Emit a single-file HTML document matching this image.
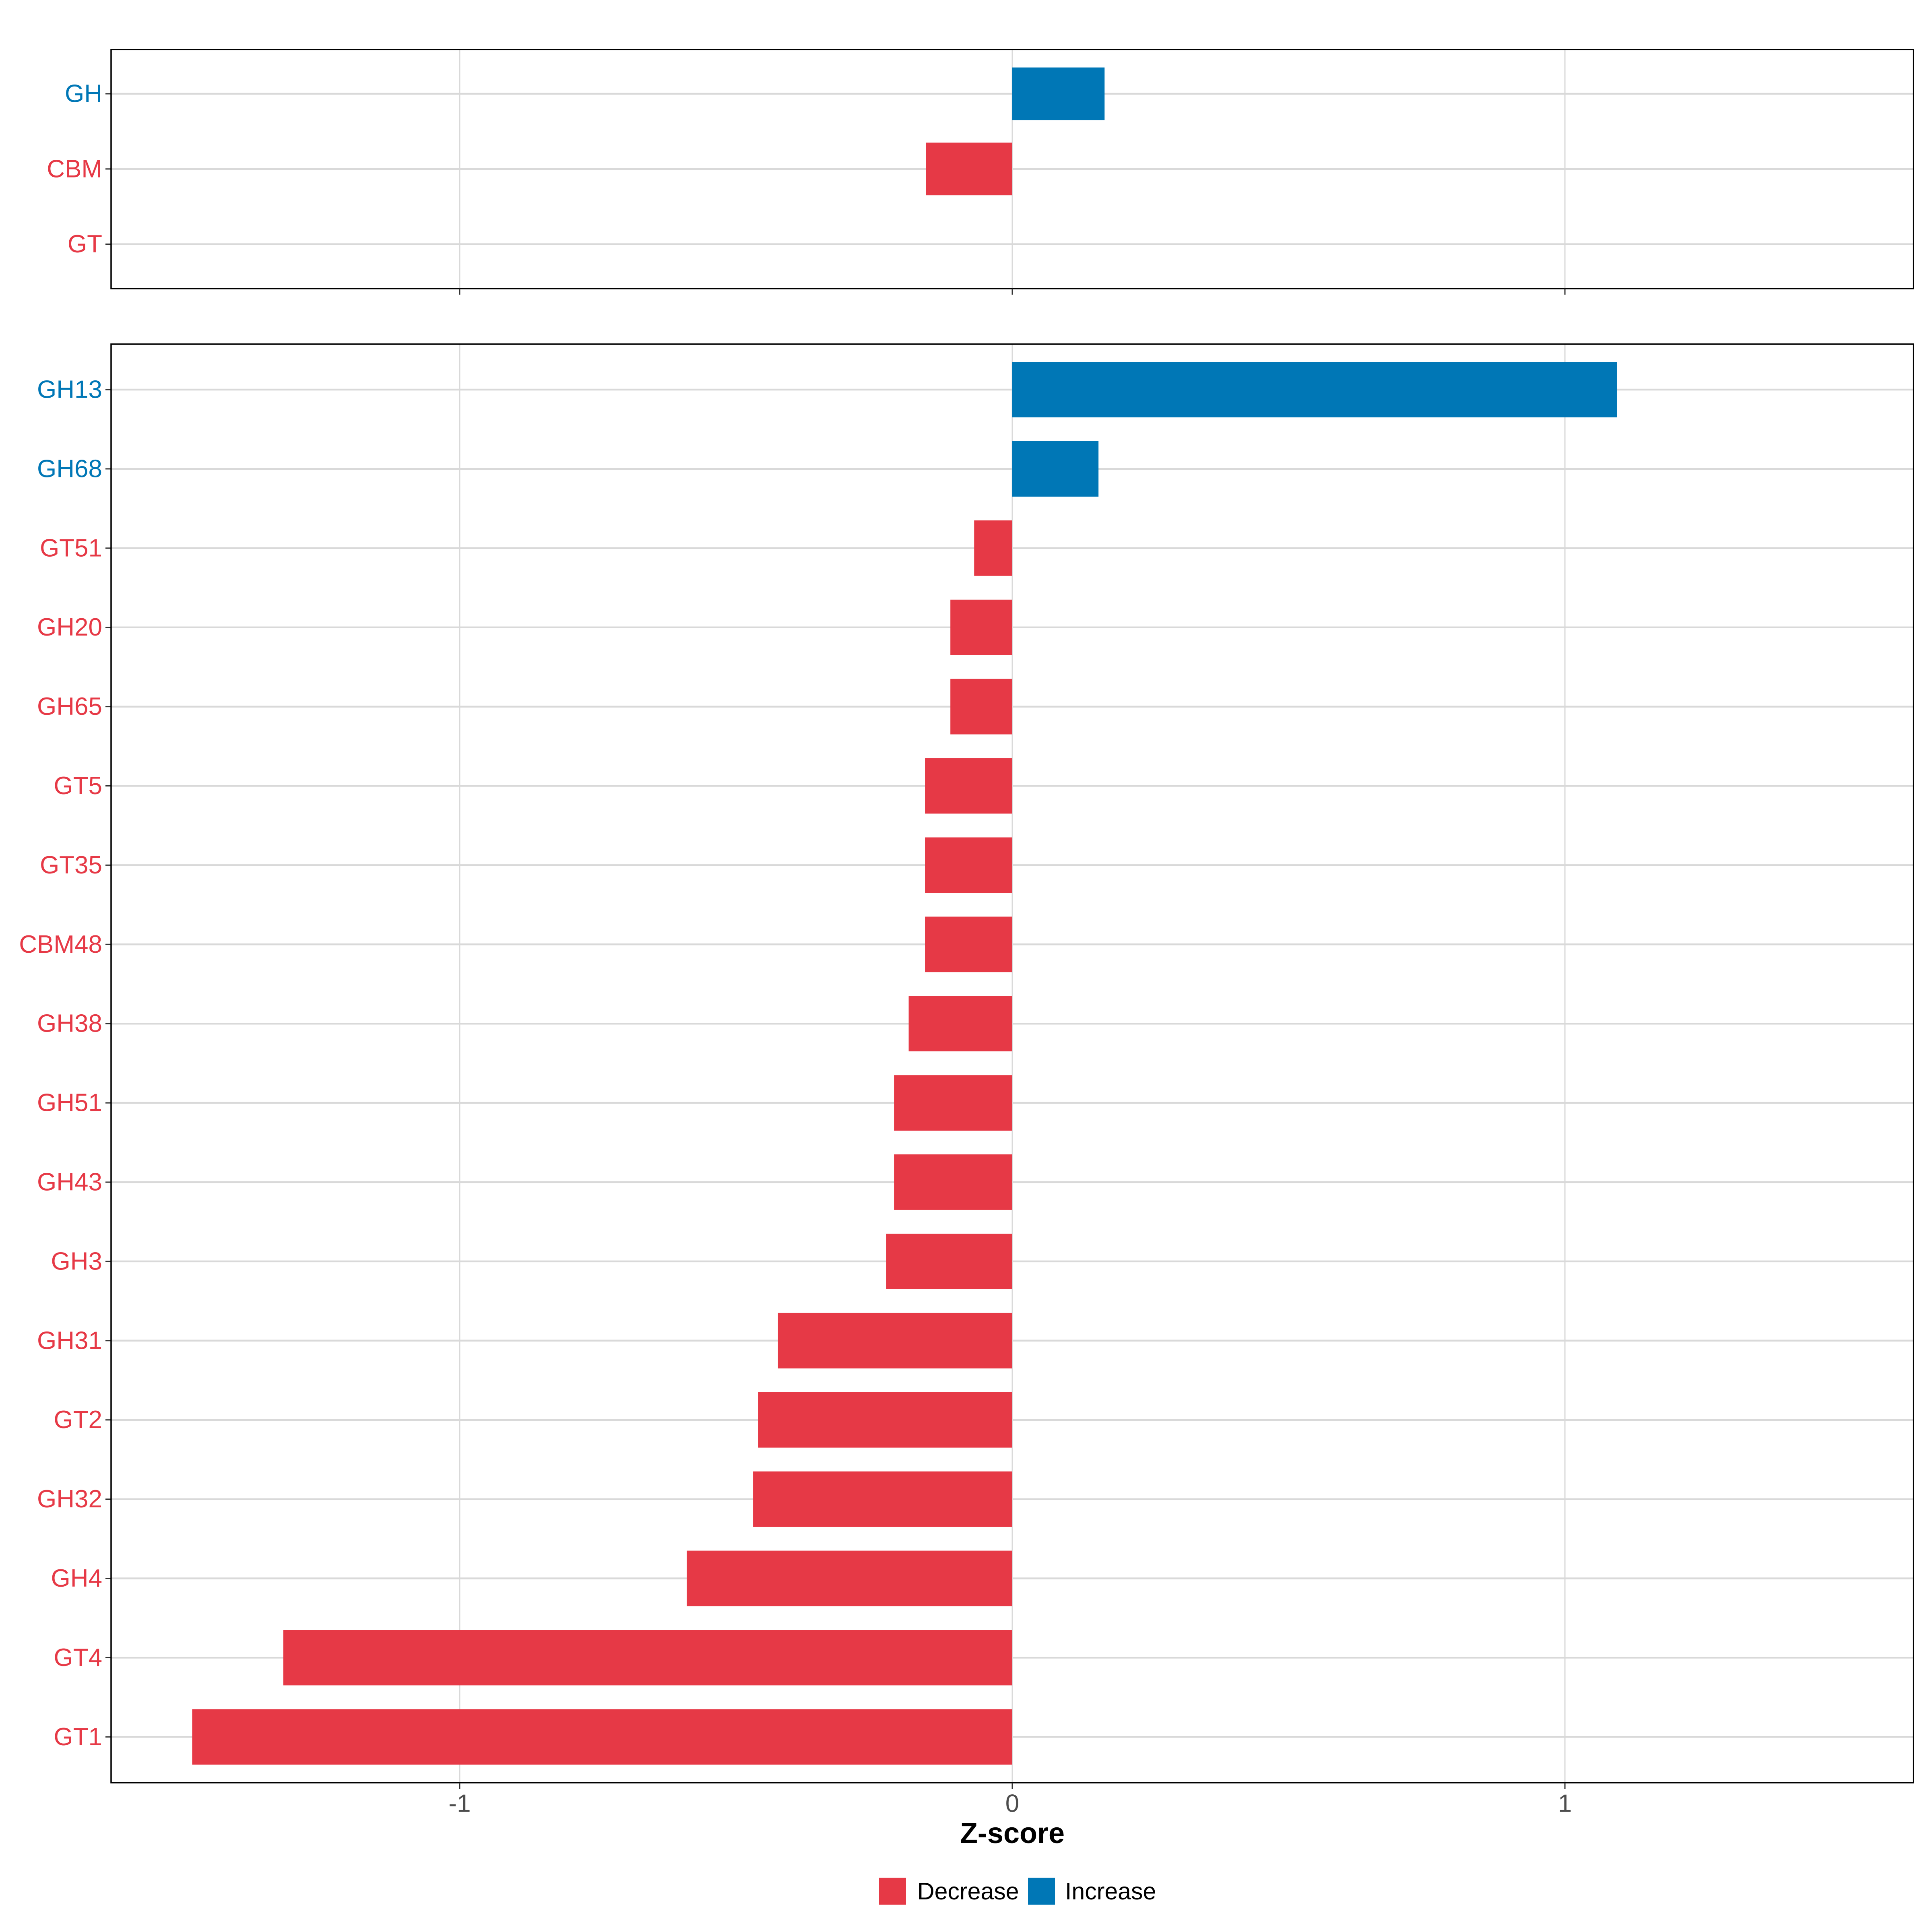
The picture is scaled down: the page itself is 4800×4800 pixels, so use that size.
<!DOCTYPE html>
<html><head><meta charset="utf-8"><style>
html,body{margin:0;padding:0;background:#fff;}
svg{display:block;font-family:"Liberation Sans",Arial,sans-serif;}
</style></head><body>
<svg id="chart" width="4800" height="4800" viewBox="0 0 4800 4800" xmlns="http://www.w3.org/2000/svg"></svg>
<script>
const topCategories = ["GH","CBM","GT"];
const topValues = [0.167,-0.156,0];
const bottomCategories = ["GH13","GH68","GT51","GH20","GH65","GT5","GT35","CBM48","GH38","GH51","GH43","GH3","GH31","GT2","GH32","GH4","GT4","GT1"];
const bottomValues = [1.094,0.156,-0.069,-0.112,-0.112,-0.158,-0.158,-0.158,-0.1875,-0.214,-0.214,-0.228,-0.424,-0.46,-0.469,-0.589,-1.319,-1.484];
const xTicks = [-1,0,1];
const xTickLabels = ["-1","0","1"];

const RED="#E63946", BLUE="#0077B6";
const svg=document.getElementById('chart');
const NS="http://www.w3.org/2000/svg";
const L=276,R=4754;
function xs(v){return 2515+v*1373;}
function mk(tag,attrs,parent){const e=document.createElementNS(NS,tag);for(const k in attrs)e.setAttribute(k,attrs[k]);(parent||svg).appendChild(e);return e;}

function panel(name,top,bottom,firstY,step,cats,vals,showLabels){
  const g=mk('g',{});
  
  
  xTicks.forEach(t=>{const l=mk('line',{x1:xs(t),x2:xs(t),y1:top,y2:bottom,stroke:'#d9d9d9','stroke-width':3},g);
    
    });
  cats.forEach((c,i)=>{
    const y=firstY+i*step;
    const gl=mk('line',{x1:L,x2:R,y1:y,y2:y,stroke:'#d9d9d9','stroke-width':4.5},g);
    
    
  });
  cats.forEach((c,i)=>{
    const y=firstY+i*step, v=vals[i];
    const col=v>0?BLUE:RED;
    const h=step*0.7;
    if(v!==0){
      const b=mk('rect',{x:Math.min(xs(0),xs(v)),y:y-h/2,width:Math.abs(xs(v)-xs(0)),height:h,fill:col},g);
      
      
    }
    const t=mk('text',{x:254,y:y,'font-size':62,fill:col,'text-anchor':'end','dominant-baseline':'central'},g);
    t.textContent=c;
    
    
    const tk=mk('line',{x1:L-14,x2:L,y1:y,y2:y,stroke:'#333','stroke-width':3},g);
    
    
  });
  const fr=mk('rect',{x:L,y:top,width:R-L,height:bottom-top,fill:'none',stroke:'#000','stroke-width':3.5},g);
  
  
  xTicks.forEach((t,i)=>{
    const tk=mk('line',{x1:xs(t),x2:xs(t),y1:bottom,y2:bottom+15,stroke:'#333','stroke-width':3},g);
    
    
    if(showLabels){
      const tl=mk('text',{x:xs(t),y:4481,'font-size':62,fill:'#4d4d4d','text-anchor':'middle','dominant-baseline':'central'},g);
      tl.textContent=xTickLabels[i];
      
      
    }
  });
}
panel('top-panel',123,717,233,186.8,topCategories,topValues,false);
panel('bottom-panel',855,4429,968,196.9,bottomCategories,bottomValues,true);

const xt=mk('text',{x:2515,y:4555,'font-size':72,'font-weight':'bold','text-anchor':'middle','dominant-baseline':'central',fill:'#000'});
xt.textContent='Z-score';



const lg=mk('g',{});


[["Decrease",RED,2184,2279],["Increase",BLUE,2554,2646]].forEach(d=>{
  const k=mk('rect',{x:d[2],y:4665,width:67,height:67,fill:d[1]},lg);
  
  
  const t=mk('text',{x:d[3],y:4699,'font-size':59,'dominant-baseline':'central',fill:'#000'},lg);
  t.textContent=d[0];
  
  
});
</script>
</body></html>
